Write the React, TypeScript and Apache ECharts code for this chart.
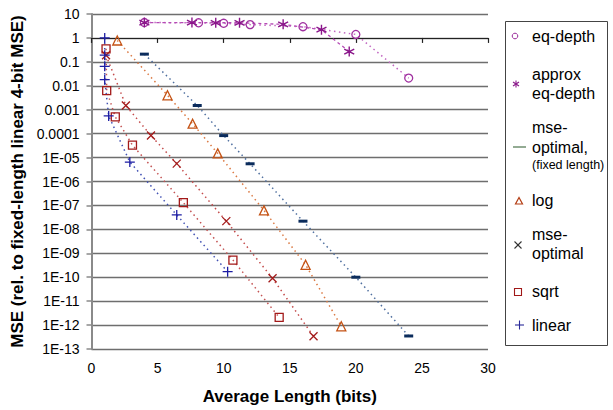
import React, { useEffect, useRef } from "react";
import * as echarts from "echarts";

// ---- data (x = average length in bits, y = MSE relative to fixed-length linear 4-bit) ----
const eqDepthX = [4, 8.1, 10, 12, 16, 20, 24];
const eqDepthY = [4.4, 4.3, 4.1, 3.6, 2.95, 1.4, 0.021];

const approxEqDepthX = [4, 7.6, 9.4, 11.2, 14.5, 17.4, 19.5];
const approxEqDepthY = [4.4, 4.4, 4.3, 4.3, 3.7, 2.2, 0.27];

const mseFixedX = [4, 8, 10, 12, 16, 20, 24];
const mseFixedY = [0.21, 0.0015, 8.3e-5, 5.5e-6, 2.2e-8, 1e-10, 3.5e-13];

const logX = [1.95, 5.75, 7.65, 9.55, 13.05, 16.2, 18.9];
const logY = [0.78, 0.004, 2.6e-4, 1.5e-5, 6.2e-8, 3.3e-10, 8.9e-13];

const mseOptX = [1.1, 2.6, 4.5, 6.45, 10.2, 13.7, 16.8];
const mseOptY = [0.19, 0.0015, 8.3e-5, 5.6e-6, 2.2e-8, 9e-11, 3.4e-13];

const sqrtX = [1.1, 1.15, 1.8, 3.1, 6.95, 10.7, 14.2];
const sqrtY = [0.35, 0.0063, 5e-4, 3.3e-5, 1.3e-7, 5.2e-10, 2.1e-12];

const linearX = [1, 1, 1, 1, 1.3, 2.9, 6.45, 10.3];
const linearY = [1, 0.19, 0.065, 0.018, 5.5e-4, 6.5e-6, 4e-8, 1.7e-10];

const xTitle = "Average Length (bits)";
const yTitle = "MSE (rel. to fixed-length linear 4-bit MSE)";

const FONT = "Liberation Sans";

const ASTERISK = "path://M5,0L5,10M0.7,2.5L9.3,7.5M0.7,7.5L9.3,2.5";
const XMARK = "path://M0,0L10,10M0,10L10,0";
const PLUS = "path://M5,0L5,10M0,5L10,5";

function pts(xs: number[], ys: number[]) {
  return xs.map((x, i) => [x, Math.log10(ys[i])]);
}

function fmtY(v: number) {
  const e = Math.round(v);
  if (e >= 0) return String(Math.pow(10, e));
  if (e >= -4) return Math.pow(10, e).toFixed(-e);
  return "1E-" + String(-e).padStart(2, "0");
}

export default function App() {
  const ref = useRef<HTMLDivElement>(null);

  useEffect(() => {
    document.body.style.margin = "0";
    const chart = echarts.init(ref.current!, null, { renderer: "svg" });
    const dotted = (c: string) => ({ color: c, width: 1.5, type: [1.5, 3.5] as any });
    const hollow = (c: string, w = 1.3) => ({ color: "rgba(0,0,0,0)", borderColor: c, borderWidth: w });

    const series: any[] = [
      {
        name: "eq-depth",
        data: pts(eqDepthX, eqDepthY),
        symbol: "circle",
        symbolSize: 8,
        itemStyle: hollow("#a030a0"),
        lineStyle: dotted("#c266c2"),
      },
      {
        name: "approx eq-depth",
        data: pts(approxEqDepthX, approxEqDepthY),
        symbol: ASTERISK,
        symbolSize: 10,
        itemStyle: hollow("#8a168a", 1.4),
        lineStyle: { color: "#b54ab5", width: 1.3, type: [3, 3] },
      },
      {
        name: "mse-optimal, (fixed length)",
        data: pts(mseFixedX, mseFixedY),
        symbol: "rect",
        symbolSize: [9, 3],
        itemStyle: { color: "#0b2c5c" },
        lineStyle: dotted("#4f6f9f"),
      },
      {
        name: "log",
        data: pts(logX, logY),
        symbol: "triangle",
        symbolSize: 9,
        itemStyle: hollow("#c45214"),
        lineStyle: dotted("#db7a44"),
      },
      {
        name: "mse-optimal",
        data: pts(mseOptX, mseOptY),
        symbol: XMARK,
        symbolSize: 8,
        itemStyle: hollow("#a31a1a"),
        lineStyle: dotted("#c44c4c"),
      },
      {
        name: "sqrt",
        data: pts(sqrtX, sqrtY),
        symbol: "rect",
        symbolSize: 8,
        itemStyle: hollow("#a31a1a"),
        lineStyle: dotted("#c45454"),
      },
      {
        name: "linear",
        data: pts(linearX, linearY),
        symbol: PLUS,
        symbolSize: 10,
        itemStyle: hollow("#1c1ca3"),
        lineStyle: dotted("#4252b4"),
      },
    ].map((s) => ({ type: "line", showSymbol: true, emphasis: { disabled: true }, z: 3, ...s }));

    // legend drawn as graphic elements
    const LX = 532;
    const txt = (text: string, y: number, size = 16) => ({
      type: "text",
      x: LX,
      y,
      style: { text, fill: "#000", fontSize: size, fontFamily: FONT, verticalAlign: "middle" },
    });
    const ln = (x1: number, y1: number, x2: number, y2: number, c: string, w = 1.1) => ({
      type: "line",
      shape: { x1, y1, x2, y2 },
      style: { stroke: c, lineWidth: w },
    });

    const graphic: any[] = [
      {
        type: "rect",
        shape: { x: 505.5, y: 21.5, width: 102, height: 324 },
        style: { fill: "#fff", stroke: "#444", lineWidth: 1 },
      },
      { type: "circle", shape: { cx: 515, cy: 36, r: 2.8 }, style: { fill: "none", stroke: "#9a2a9a", lineWidth: 1 } },
      txt("eq-depth", 36),
      ln(516, 80.5, 516, 87.5, "#8a1a8a"),
      ln(513, 82, 519, 86, "#8a1a8a"),
      ln(513, 86, 519, 82, "#8a1a8a"),
      txt("approx", 74),
      txt("eq-depth", 93),
      ln(513, 147, 526, 147, "#6f8f6f", 1.5),
      txt("mse-", 127),
      txt("optimal,", 147),
      txt("(fixed length)", 165, 12.5),
      {
        type: "polygon",
        shape: { points: [[519, 197.5], [515.5, 204], [522.5, 204]] },
        style: { fill: "none", stroke: "#b33c12", lineWidth: 1.2 },
      },
      txt("log", 200),
      ln(514.5, 241.5, 521.5, 248.5, "#333"),
      ln(514.5, 248.5, 521.5, 241.5, "#333"),
      txt("mse-", 234),
      txt("optimal", 253),
      { type: "rect", shape: { x: 514.5, y: 288.5, width: 7, height: 7 }, style: { fill: "none", stroke: "#a01818", lineWidth: 1.1 } },
      txt("sqrt", 291),
      ln(515, 325, 524, 325, "#2a2a9a"),
      ln(519.5, 320.5, 519.5, 329.5, "#2a2a9a"),
      txt("linear", 325),
    ];

    chart.setOption({
      animation: false,
      backgroundColor: "#fff",
      textStyle: { fontFamily: FONT },
      grid: { left: 91.5, top: 14, width: 396.5, height: 335.7, containLabel: false },
      xAxis: {
        type: "value",
        min: 0,
        max: 30,
        interval: 5,
        name: xTitle,
        nameLocation: "middle",
        nameGap: 39,
        nameTextStyle: { fontSize: 17, fontWeight: "bold", color: "#000", fontFamily: FONT },
        axisLine: { show: true, lineStyle: { color: "#222", width: 1.2 } },
        axisTick: { show: true, length: 5, lineStyle: { color: "#222", width: 1.2 } },
        axisLabel: { fontSize: 14, color: "#000", margin: 12, fontFamily: FONT },
        splitLine: { show: false },
      },
      yAxis: {
        type: "value",
        min: -13,
        max: 1,
        interval: 1,
        name: yTitle,
        nameLocation: "middle",
        nameGap: 63,
        nameTextStyle: { fontSize: 17, fontWeight: "bold", color: "#000", fontFamily: FONT },
        axisLine: { show: true, onZero: false, lineStyle: { color: "#8a8a8a", width: 2 } },
        axisTick: { show: true, length: 5, lineStyle: { color: "#8a8a8a", width: 1.5 } },
        axisLabel: { fontSize: 14, color: "#000", margin: 12, fontFamily: FONT, formatter: fmtY },
        splitLine: { show: true, lineStyle: { color: "#6e6e6e", width: 1.3 } },
      },
      series,
      graphic,
    });
    return () => chart.dispose();
  }, []);

  return <div ref={ref} style={{ width: 613, height: 410 }} />;
}
